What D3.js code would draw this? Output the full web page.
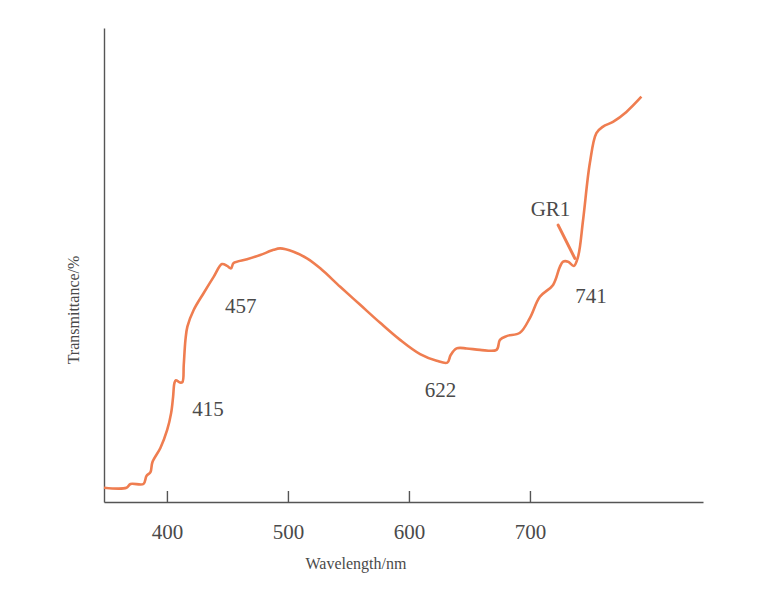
<!DOCTYPE html>
<html lang="en">
<head>
    <meta charset="UTF-8">
    <title>Transmittance spectrum</title>
    <script src="https://d3js.org/d3.v7.min.js"></script>
    <style>
        body{ margin: 0; background: #ffffff; }
        .lbl{ font-family: "Liberation Serif", "DejaVu Serif", serif; fill: #4a4a4a; }
        .axis path, .axis line{ stroke: #555; stroke-width: 1.4; }
        .axis text{ font-family: "Liberation Serif", serif; font-size: 21px; fill: #4a4a4a; }
    </style>
</head>
<body>
    <svg id='chart' width="768" height="599"></svg>

    <script>
        // wavelength (nm) and transmittance (relative %)
        let wavelength = [348, 366.6, 369.9, 380.6, 383.1, 386.4, 388.0, 394.6, 400.2, 403.5,
            405.1, 406.2, 407.4, 410.7, 412.8, 413.9, 415.3, 416.9, 422.1, 430.4,
            438.6, 445.5, 449.7, 453.0, 455.1, 466.2, 477.1, 488.1, 493.6, 504.6,
            515.7, 526.7, 543.2, 559.7, 576.2, 592.7, 609.2, 622.9, 631.7, 634.5,
            639.4, 647.7, 658.7, 672.4, 675.2, 680.7, 691.7, 699.9, 708.2, 719.1,
            724.7, 727.4, 731.5, 736.2, 739.8, 743.9, 749.5, 754.9, 760.4, 768.6,
            779.7, 792.1]
        let transmittance = [3.0, 3.0, 3.8, 3.8, 5.5, 6.3, 8.4, 11.4, 15.2, 18.8,
            22.2, 25.1, 25.7, 25.2, 25.3, 28.9, 34.2, 37.0, 40.5, 44.1,
            47.5, 50.2, 49.8, 49.3, 50.4, 51.2, 52.1, 53.2, 53.5, 52.8,
            51.4, 49.3, 45.4, 41.6, 37.8, 34.2, 31.2, 29.8, 29.4, 31.0,
            32.4, 32.4, 32.1, 32.1, 34.2, 35.0, 35.7, 38.8, 43.3, 45.8,
            49.6, 50.7, 50.7, 49.8, 51.8, 59.5, 71.5, 77.8, 79.2, 80.2,
            82.3, 85.5]

        let xTicks = [400, 500, 600, 700]

        // peak labels: text, wavelength, transmittance where the text sits
        let peakText = ["415", "457", "622", "741", "GR1"]
        let peakX = [434, 461, 626, 750.5, 717]
        let peakY = [19.6, 41.5, 23.6, 43.6, 61.9]

        // GR1 pointer line
        let gr1X = [723.3, 737.1]
        let gr1Y = [58.4, 51.4]

        let svg = d3.select("#chart")

        let x = d3.scaleLinear().domain([348, 843]).range([104, 703])
        let y = d3.scaleLinear().domain([0, 100]).range([502, 28])

        // x axis, ticks pointing up
        svg.append("g")
            .attr("class", "axis")
            .attr("transform", "translate(0,502)")
            .call(d3.axisBottom(x).tickValues(xTicks).tickSizeInner(-11).tickSizeOuter(0).tickPadding(22))

        // y axis, no ticks
        svg.append("g")
            .attr("class", "axis")
            .attr("transform", "translate(104,0)")
            .call(d3.axisLeft(y).tickValues([]).tickSizeOuter(0))

        // curve
        let pts = wavelength.map(function(d, i){ return [d, transmittance[i]] })
        let line = d3.line()
            .x(function(d){ return x(d[0]) })
            .y(function(d){ return y(d[1]) })
            .curve(d3.curveCatmullRom.alpha(0.5))

        svg.append("path")
            .datum(pts)
            .attr("d", line)
            .attr("fill", "none")
            .attr("stroke", "#ef7d50")
            .attr("stroke-width", 2.6)
            .attr("stroke-linejoin", "round")

        svg.append("line")
            .attr("x1", x(gr1X[0])).attr("y1", y(gr1Y[0]))
            .attr("x2", x(gr1X[1])).attr("y2", y(gr1Y[1]))
            .attr("stroke", "#ef7d50")
            .attr("stroke-width", 3)
            .attr("stroke-linecap", "round")

        // peak labels
        svg.selectAll(".peak")
            .data(peakText)
            .enter()
            .append("text")
            .attr("class", "lbl peak")
            .attr("x", function(d, i){ return x(peakX[i]) })
            .attr("y", function(d, i){ return y(peakY[i]) })
            .attr("text-anchor", "middle")
            .attr("dy", "0.35em")
            .style("font-size", "21px")
            .text(function(d){ return d })

        // axis titles
        svg.append("text")
            .attr("class", "lbl")
            .attr("x", 356)
            .attr("y", 569)
            .attr("text-anchor", "middle")
            .style("font-size", "16px")
            .text("Wavelength/nm")

        svg.append("text")
            .attr("class", "lbl")
            .attr("transform", "translate(79,310) rotate(-90)")
            .attr("text-anchor", "middle")
            .style("font-size", "16px")
            .text("Transmittance/%")
    </script>
</body>
</html>
